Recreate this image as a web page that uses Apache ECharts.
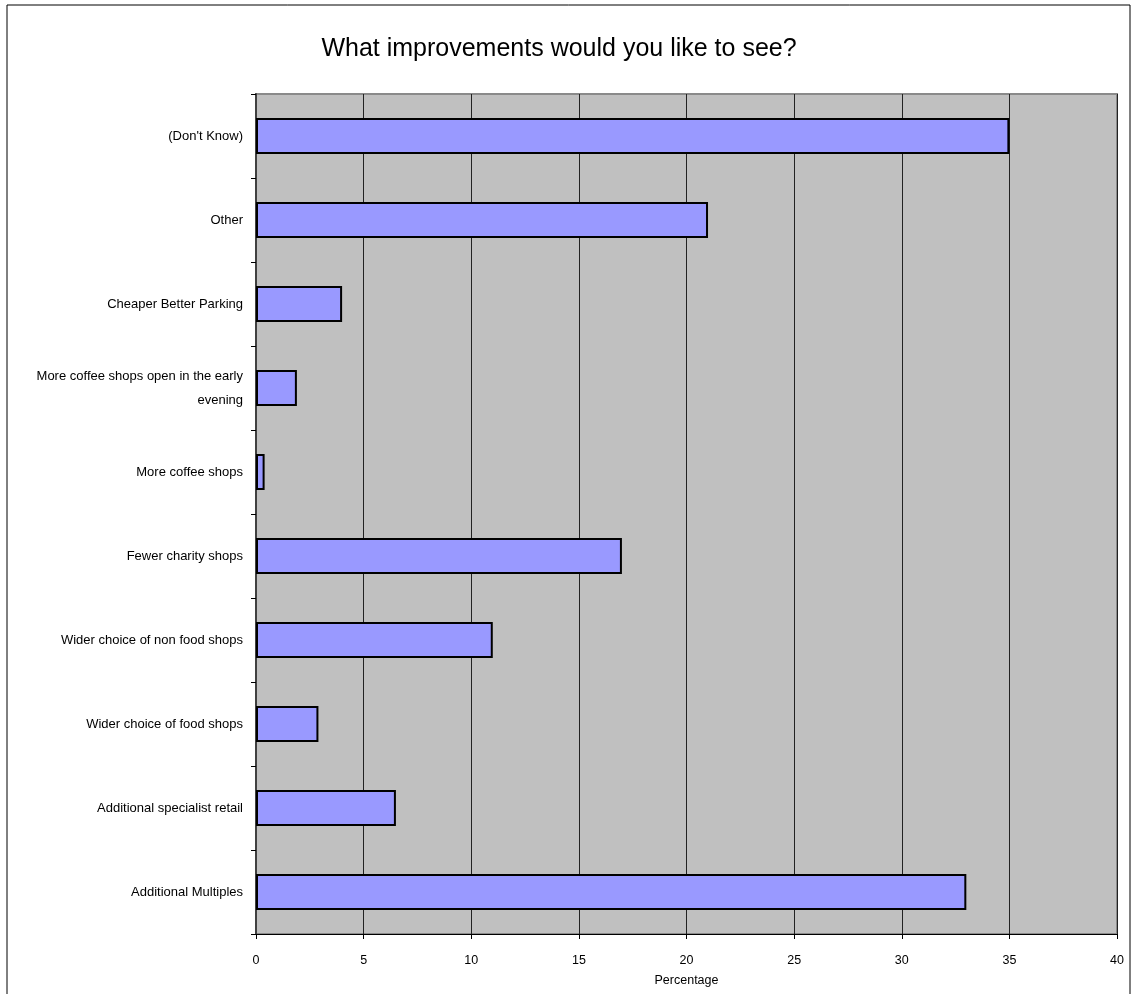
<!DOCTYPE html>
<html><head><meta charset="utf-8">
<script src="https://cdn.jsdelivr.net/npm/echarts@6/dist/echarts.min.js"></script>
<style>html,body{margin:0;padding:0;background:#fff}#c{width:1131px;height:994px}</style>
</head><body><div id="c"></div>
<script>
const categories = [
  "Additional Multiples",
  "Additional specialist retail",
  "Wider choice of food shops",
  "Wider choice of non food shops",
  "Fewer charity shops",
  "More coffee shops",
  "More coffee shops open in the early\nevening",
  "Cheaper Better Parking",
  "Other",
  "(Don't Know)"
];
const values = [33, 6.5, 2.9, 11, 17, 0.4, 1.9, 4, 21, 35];
const xTicks = [0, 5, 10, 15, 20, 25, 30, 35, 40];
const titleText = "What improvements would you like to see?";
const xName = "Percentage";

const font = "'Liberation Sans', Arial, sans-serif";
const chart = echarts.init(document.getElementById('c'), null, {renderer: 'canvas'});
chart.setOption({
  animation: false,
  backgroundColor: '#fff',
  title: {
    text: titleText, left: 554, top: 32, textAlign: 'center',
    textStyle: {fontFamily: font, fontSize: 25, fontWeight: 'normal', color: '#000'}
  },
  graphic: [{
    type: 'rect', shape: {x: 7, y: 5, width: 1123, height: 1000},
    style: {fill: 'none', stroke: '#000', lineWidth: 1}, silent: true, z: 0
  }],
  grid: {left: 256, right: 14, top: 94, bottom: 60, show: true,
    backgroundColor: '#C0C0C0', borderColor: '#8a8a8a', borderWidth: 2},
  xAxis: {
    type: 'value', min: xTicks[0], max: xTicks[xTicks.length - 1], interval: 5,
    name: xName, nameLocation: 'middle', nameGap: 40,
    nameTextStyle: {fontFamily: font, fontSize: 12.5, color: '#000'},
    axisLine: {show: true, lineStyle: {color: '#000', width: 1}},
    axisTick: {show: true, length: 5, lineStyle: {color: '#000'}},
    axisLabel: {fontFamily: font, fontSize: 12.5, color: '#000', margin: 20},
    splitLine: {show: true, lineStyle: {color: '#222', width: 1}}
  },
  yAxis: {
    type: 'category', data: categories,
    axisLine: {show: true, lineStyle: {color: '#404040', width: 2}},
    axisTick: {show: true, length: 5, lineStyle: {color: '#000'}},
    axisLabel: {fontFamily: font, fontSize: 13, color: '#000', margin: 13, align: 'right', lineHeight: 24},
    splitLine: {show: false}
  },
  series: [{
    type: 'bar', data: values, barWidth: 36,
    itemStyle: {color: '#9999FF', borderColor: '#000', borderWidth: 2}
  }]
});
</script></body></html>
